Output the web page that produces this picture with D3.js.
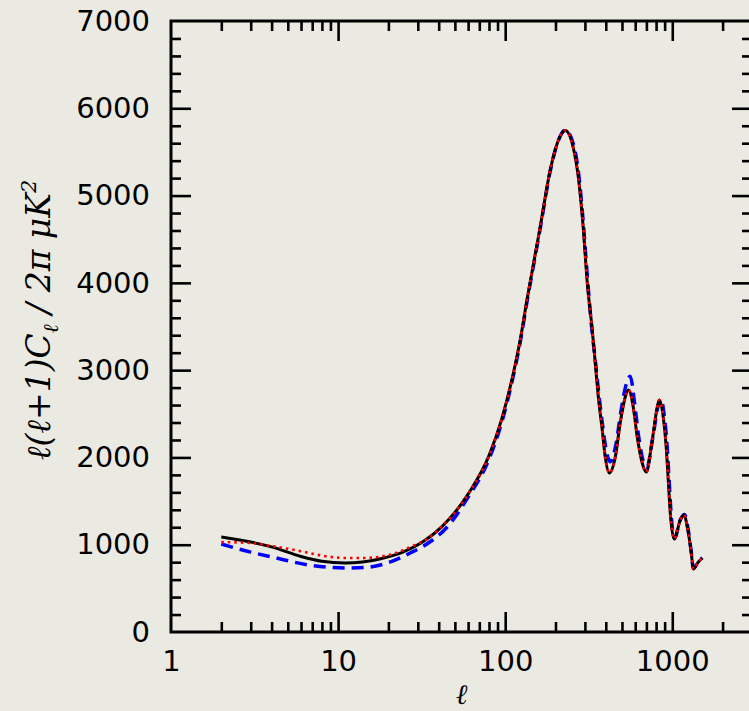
<!DOCTYPE html>
<html>
<head>
<meta charset="utf-8">
<script src="https://cdn.jsdelivr.net/npm/d3@7"></script>
<style>
  body { margin: 0; background: #ebeae2; }
  svg { display: block; }
</style>
</head>
<body>
<svg width="749" height="711"></svg>
<script>
// multipole values and band power (uK^2)
const ellBlack = [2, 3, 4, 6, 8, 11, 14, 18, 24, 32, 42, 60, 80, 95, 112, 123, 135, 162, 186, 205, 229, 255, 274, 293, 310, 332, 346, 361, 381, 397, 420, 456, 488, 523, 547, 584, 617, 661, 699, 759, 813, 836, 883, 920, 946, 973, 1028, 1117, 1180, 1230, 1300, 1336, 1432, 1513];
const powBlack = [1088, 1031, 975, 865, 810, 790, 802, 840, 910, 1030, 1210, 1580, 2020, 2430, 2967, 3345, 3803, 4639, 5292, 5600, 5745, 5556, 5212, 4639, 3998, 3459, 3081, 2692, 2314, 2004, 1821, 2004, 2394, 2692, 2772, 2577, 2234, 1936, 1833, 2199, 2577, 2657, 2463, 2119, 1741, 1363, 1065, 1283, 1340, 1203, 905, 722, 802, 848];

const ellRed = [2, 3, 4, 6, 8, 11, 14, 20, 27, 35, 42, 60, 80, 95, 112, 123, 135, 162, 186, 205, 229, 255, 274, 293, 310, 332, 346, 361, 381, 397, 420, 456, 488, 523, 547, 584, 617, 661, 699, 759, 813, 836, 883, 920, 946, 973, 1028, 1117, 1180, 1230, 1300, 1336, 1432, 1513];
const powRed = [1030, 1020, 985, 925, 875, 848, 848, 880, 974, 1080, 1215, 1580, 2020, 2430, 2967, 3345, 3803, 4639, 5292, 5600, 5745, 5556, 5212, 4639, 3998, 3459, 3081, 2692, 2314, 2004, 1821, 2004, 2394, 2692, 2772, 2577, 2234, 1936, 1833, 2199, 2577, 2657, 2463, 2119, 1741, 1363, 1065, 1283, 1340, 1203, 905, 722, 802, 848];

const ellBlue = [2, 3, 4, 7, 11, 15.5, 20, 27, 35, 45, 60, 80, 95, 112, 123, 135, 162, 186, 205, 229, 255, 274, 293, 310, 332, 346, 361, 381, 400, 425, 460, 492, 527, 560, 595, 628, 670, 705, 765, 825, 855, 895, 930, 955, 980, 1030, 1120, 1185, 1235, 1300, 1336, 1432, 1513];
const powBlue = [1008, 915, 860, 762, 733, 745, 795, 905, 1025, 1203, 1545, 1980, 2390, 2940, 3320, 3780, 4620, 5280, 5595, 5750, 5600, 5280, 4700, 4080, 3420, 3120, 2780, 2400, 2110, 1950, 2150, 2520, 2820, 2930, 2620, 2250, 1960, 1890, 2230, 2600, 2670, 2480, 2150, 1780, 1400, 1075, 1290, 1345, 1210, 910, 730, 805, 850];

const xTickLabels = [1, 10, 100, 1000];
const yTickLabels = [0, 1000, 2000, 3000, 4000, 5000, 6000, 7000];

const svg = d3.select("svg"),
  width = +svg.attr("width"),
  height = +svg.attr("height");

const plotLeft = 171, plotTop = 21, plotRight = 752, plotBottom = 632;

svg.append("rect")
  .attr("width", width)
  .attr("height", height)
  .attr("fill", "#ebeae2");

const x = d3.scaleLog().domain([1, 3000]).range([plotLeft, plotRight]);
const y = d3.scaleLinear().domain([0, 7000]).range([plotBottom, plotTop]);

// minor ticks: 2..9 in each decade, every 200 on y
const xMinor = [];
[1, 10, 100, 1000].forEach(d => { for (let k = 2; k <= 9; k++) if (d * k < 3000) xMinor.push(d * k); });
const xMajor = [10, 100, 1000];
const yMinor = d3.range(200, 7000, 200).filter(v => v % 1000 !== 0);
const yMajor = [1000, 2000, 3000, 4000, 5000, 6000];

function tickGroup(axis, pos, values, size) {
  const g = svg.append("g")
    .attr("transform", pos)
    .call(axis.tickValues(values).tickSize(size).tickFormat(""));
  g.select(".domain").remove();
  g.selectAll("line").attr("stroke", "#000").attr("stroke-width", 2.6);
}

tickGroup(d3.axisBottom(x), `translate(0,${plotBottom})`, xMinor, -10);
tickGroup(d3.axisBottom(x), `translate(0,${plotBottom})`, xMajor, -20);
tickGroup(d3.axisTop(x), `translate(0,${plotTop})`, xMinor, -10);
tickGroup(d3.axisTop(x), `translate(0,${plotTop})`, xMajor, -20);
tickGroup(d3.axisLeft(y), `translate(${plotLeft},0)`, yMinor, -10);
tickGroup(d3.axisLeft(y), `translate(${plotLeft},0)`, yMajor, -20);
tickGroup(d3.axisRight(y), `translate(${plotRight},0)`, yMinor, -10);
tickGroup(d3.axisRight(y), `translate(${plotRight},0)`, yMajor, -20);

// tick labels
const xLab = svg.append("g")
  .attr("transform", `translate(0,${plotBottom})`)
  .call(d3.axisBottom(x).tickValues(xTickLabels).tickSize(0).tickPadding(18).tickFormat(d3.format("d")));
xLab.select(".domain").remove();
xLab.selectAll("text").attr("font-family", "DejaVu Sans").attr("font-size", 29).attr("fill", "#000");

const yLab = svg.append("g")
  .attr("transform", `translate(${plotLeft},0)`)
  .call(d3.axisLeft(y).tickValues(yTickLabels).tickSize(0).tickPadding(21).tickFormat(d3.format("d")));
yLab.select(".domain").remove();
yLab.selectAll("text").attr("font-family", "DejaVu Sans").attr("font-size", 29).attr("fill", "#000");

// curves
const line = d3.line()
  .x(d => x(d[0]))
  .y(d => y(d[1]))
  .curve(d3.curveMonotoneX);

svg.append("path")
  .attr("d", line(d3.zip(ellBlue, powBlue)))
  .attr("fill", "none")
  .attr("stroke", "#0000ff")
  .attr("stroke-width", 3.5)
  .attr("stroke-dasharray", "12,7");

svg.append("path")
  .attr("d", line(d3.zip(ellBlack, powBlack)))
  .attr("fill", "none")
  .attr("stroke", "#000")
  .attr("stroke-width", 3);

svg.append("path")
  .attr("d", line(d3.zip(ellRed, powRed)))
  .attr("fill", "none")
  .attr("stroke", "#ff0000")
  .attr("stroke-width", 2.6)
  .attr("stroke-dasharray", "2.5,4");

// frame
svg.append("rect")
  .attr("x", plotLeft)
  .attr("y", plotTop)
  .attr("width", plotRight - plotLeft)
  .attr("height", plotBottom - plotTop)
  .attr("fill", "none")
  .attr("stroke", "#000")
  .attr("stroke-width", 3);

// axis titles
svg.append("text")
  .attr("x", (plotLeft + plotRight) / 2)
  .attr("y", 704)
  .attr("text-anchor", "middle")
  .attr("font-family", "DejaVu Serif")
  .attr("font-style", "italic")
  .attr("font-size", 28)
  .text("ℓ");

const yt = svg.append("text")
  .attr("transform", "translate(50,320) rotate(-90)")
  .attr("text-anchor", "middle")
  .attr("font-family", "DejaVu Serif")
  .attr("font-style", "italic")
  .attr("font-size", 33);
yt.append("tspan").text("ℓ(ℓ+1)C");
yt.append("tspan").attr("font-size", 21).attr("dy", 8).text("ℓ");
yt.append("tspan").attr("dy", -8).text(" / 2π  μK");
yt.append("tspan").attr("font-size", 21).attr("dy", -14).text("2");
</script>
</body>
</html>
